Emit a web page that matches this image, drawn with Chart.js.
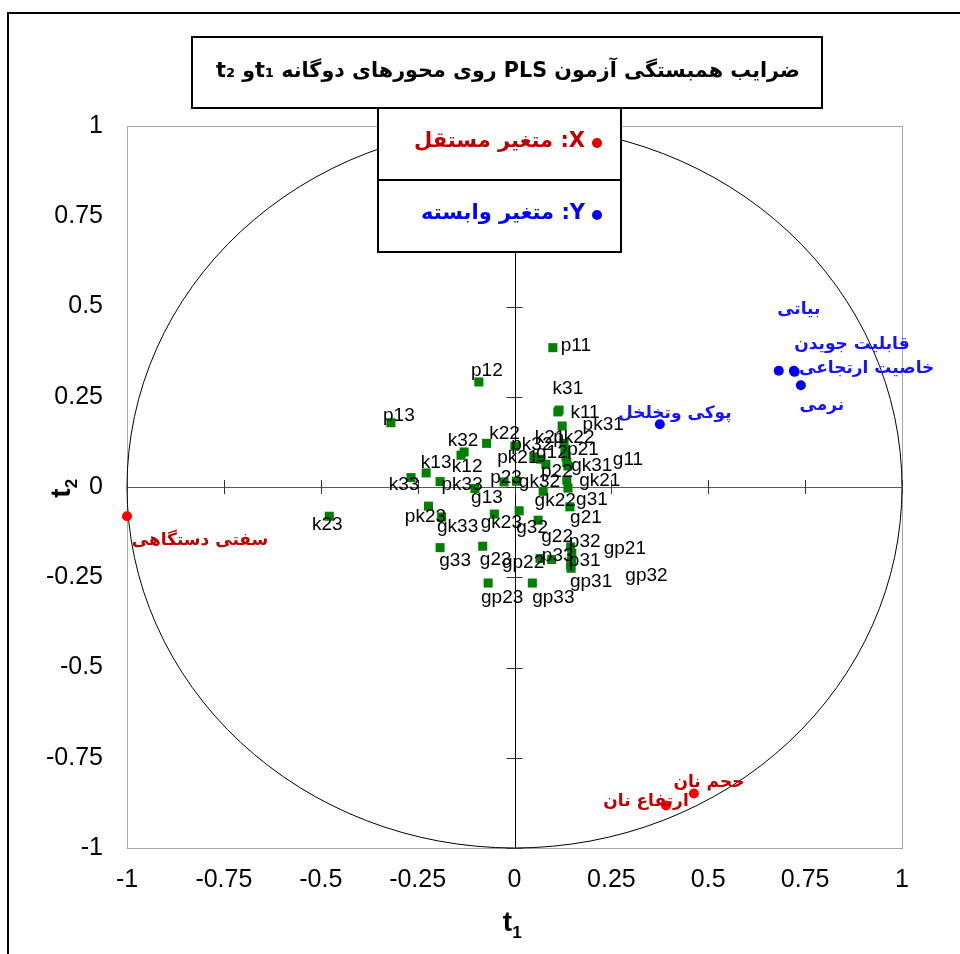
<!DOCTYPE html>
<html>
<head>
<meta charset="utf-8">
<script src="https://cdn.jsdelivr.net/npm/chart.js@4"></script>
<style>
  html, body { margin: 0; padding: 0; background: #fff; }
  canvas { display: block; }
</style>
</head>
<body>
<canvas id="c" width="960" height="954" style="width:960px;height:954px"></canvas>
<script>
// Axis ticks shared by t1 and t2
const tickValues = [-1, -0.75, -0.5, -0.25, 0, 0.25, 0.5, 0.75, 1];
const tickLabels = ['-1', '-0.75', '-0.5', '-0.25', '0', '0.25', '0.5', '0.75', '1'];

// Observations (green squares): loadings on t1 and t2
const sampleNames = ['p11','p12','p13','k11','k31','pk31','k32','k12','k22','pk32','k21','pk22','p21','pk21','g12','p22','gk31','g11','k13','k33','pk33','g13','p23','gk32','gk21','g31','gk22','k23','pk23','gk33','gk23','g32','g22','g21','g33','g23','p32','gp21','p33','gp22','p31','gp31','gp32','gp23','gp33'];
const sampleT1 = [0.099,-0.092,-0.319,0.115,0.112,0.123,-0.138,-0.130,-0.072,0.001,0.128,0.130,0.133,0.050,0.068,0.081,0.135,0.138,-0.228,-0.267,-0.192,-0.102,-0.027,0.005,0.135,0.138,0.074,-0.478,-0.222,-0.188,-0.052,0.012,0.061,0.143,-0.192,-0.082,0.145,0.148,0.096,0.066,0.145,0.146,0.147,-0.068,0.046];
const sampleT2 = [0.386,0.291,0.178,0.213,0.208,0.169,0.088,0.097,0.121,0.113,0.121,0.099,0.083,0.083,0.077,0.063,0.068,0.058,0.039,0.026,0.015,-0.004,0.014,0.016,0.019,-0.003,-0.012,-0.081,-0.053,-0.083,-0.075,-0.066,-0.092,-0.055,-0.168,-0.164,-0.166,-0.184,-0.201,-0.198,-0.217,-0.225,-0.206,-0.266,-0.266];

// Independent variables (X)
const xVarNames = ['سفتی دستگاهی', 'حجم نان', 'ارتفاع نان'];
const xVarT1 = [-1.0, 0.463, 0.391];
const xVarT2 = [-0.081, -0.849, -0.882];

// Dependent variables (Y)
const yVarNames = ['پوکی وتخلخل', 'بیاتی', 'قابلیت جویدن', 'خاصیت ارتجاعی', 'نرمی'];
const yVarT1 = [0.375, 0.682, 0.721, 0.723, 0.739];
const yVarT2 = [0.174, 0.322, 0.322, 0.319, 0.282];

// Label placement (pixel shift of each label centre from its marker)
const sampleLabelShift = [[23,-2],[8,-11],[8,-7],[26,3],[10,-23],[41,-1],[2,-14],[3,15],[18,-10],[17,-1],[-14,-6],[9,-13],[17,-7],[-16,1],[11,-6],[11,8],[25,3],[60,-6],[10,-10],[-7,7],[22,3],[12,9],[2,-4],[23,1],[33,1],[24,12],[12,9],[-2,9],[-3,11],[16,10],[7,9],[13,17],[19,17],[16,11],[15,13],[13,14],[14,-5],[53,-5],[6,-4],[-17,4],[14,-5],[20,14],[75,14],[14,15],[21,15]];
const xVarLabelShift = [[73,24],[15,-11],[-20,-4]];
const yVarLabelShift = [[15,-11],[20,-61],[58,-26],[72,-3],[21,20]];

const LATIN = '"Liberation Sans", Arial, sans-serif';
const PERSIAN = '"DejaVu Sans", sans-serif';
const RED_TEXT = '#C00000';
const BLUE_TEXT = '#1414FF';

const toPoints = (xs, ys) => xs.map((v, i) => ({ x: v, y: ys[i] }));

// Unit circle, axes through the origin with cross ticks, and the plot frame
const backdropPlugin = {
  id: 'backdrop',
  beforeDatasetsDraw(chart) {
    const { ctx, chartArea: a, scales: { x, y } } = chart;
    const x0 = x.getPixelForValue(0), y0 = y.getPixelForValue(0);
    ctx.save();
    ctx.lineWidth = 1;
    ctx.strokeStyle = '#a6a6a6';
    ctx.strokeRect(Math.round(a.left) + 0.5, Math.round(a.top) + 0.5,
      Math.round(a.right - a.left), Math.round(a.bottom - a.top));

    ctx.beginPath();
    ctx.ellipse(x0, y0, x.getPixelForValue(1) - x0, y0 - y.getPixelForValue(1), 0, 0, Math.PI * 2);
    ctx.strokeStyle = '#000';
    ctx.stroke();

    ctx.beginPath();
    ctx.strokeStyle = '#595959';
    ctx.moveTo(a.left, Math.round(y0) + 0.5);
    ctx.lineTo(a.right, Math.round(y0) + 0.5);
    ctx.stroke();
    ctx.beginPath();
    ctx.strokeStyle = '#000';
    ctx.moveTo(Math.round(x0) + 0.5, a.top);
    ctx.lineTo(Math.round(x0) + 0.5, a.bottom);
    ctx.stroke();

    ctx.beginPath();
    ctx.strokeStyle = '#333';
    tickValues.forEach(v => {
      const px = Math.round(x.getPixelForValue(v)) + 0.5;
      ctx.moveTo(px, y0 - 7); ctx.lineTo(px, y0 + 7);
      const py = Math.round(y.getPixelForValue(v)) + 0.5;
      ctx.moveTo(x0 - 8, py); ctx.lineTo(x0 + 8, py);
    });
    ctx.stroke();
    ctx.restore();
  },
  afterDatasetsDraw(chart) {
    const { ctx } = chart;
    ctx.save();
    ctx.textBaseline = 'middle';
    ctx.textAlign = 'center';

    // sample codes
    ctx.font = '19px ' + LATIN;
    ctx.fillStyle = '#000';
    ctx.direction = 'ltr';
    chart.getDatasetMeta(2).data.forEach((pt, i) => {
      const s = sampleLabelShift[i];
      ctx.fillText(sampleNames[i], pt.x + s[0], pt.y + s[1]);
    });

    // variable names
    ctx.direction = 'rtl';
    ctx.font = 'bold 17px ' + PERSIAN;
    ctx.fillStyle = RED_TEXT;
    chart.getDatasetMeta(1).data.forEach((pt, i) => {
      const s = xVarLabelShift[i];
      ctx.fillText(xVarNames[i], pt.x + s[0], pt.y + s[1]);
    });
    ctx.fillStyle = BLUE_TEXT;
    chart.getDatasetMeta(0).data.forEach((pt, i) => {
      const s = yVarLabelShift[i];
      ctx.fillText(yVarNames[i], pt.x + s[0], pt.y + s[1]);
    });
    ctx.restore();
  },
  afterDraw(chart) {
    const { ctx, scales: { x, y } } = chart;
    ctx.save();

    // outer frame
    ctx.lineWidth = 2;
    ctx.strokeStyle = '#000';
    ctx.strokeRect(8, 13, 1000, 1000);

    // title box
    ctx.fillStyle = '#fff';
    ctx.fillRect(192, 37, 630, 71);
    ctx.strokeRect(192, 37, 630, 71);
    const title = 'ضرایب همبستگی آزمون PLS روی محورهای دوگانه t\u2081و t\u2082';
    ctx.direction = 'rtl';
    ctx.textAlign = 'center';
    ctx.textBaseline = 'middle';
    let size = 22;
    ctx.font = 'bold ' + size + 'px ' + PERSIAN;
    size = size * 583 / ctx.measureText(title).width;
    ctx.font = 'bold ' + size.toFixed(1) + 'px ' + PERSIAN;
    ctx.fillStyle = '#000';
    ctx.fillText(title, 508, 72);

    // legend boxes
    const legendRows = [
      { text: 'X: متغیر مستقل', color: RED_TEXT, dot: '#E00000', top: 108 },
      { text: 'Y: متغیر وابسته', color: '#0000FF', dot: '#0000FF', top: 180 }
    ];
    legendRows.forEach(r => {
      ctx.fillStyle = '#fff';
      ctx.fillRect(378, r.top, 243, 72);
      ctx.strokeStyle = '#000';
      ctx.strokeRect(378, r.top, 243, 72);
      ctx.beginPath();
      ctx.arc(597, r.top + 35, 5, 0, Math.PI * 2);
      ctx.fillStyle = r.dot;
      ctx.fill();
      ctx.font = 'bold 21px ' + PERSIAN;
      ctx.fillStyle = r.color;
      ctx.textAlign = 'right';
      ctx.fillText(r.text, 585, r.top + 34);
    });

    // axis titles t1 / t2
    ctx.direction = 'ltr';
    ctx.fillStyle = '#000';
    ctx.textAlign = 'left';
    ctx.textBaseline = 'alphabetic';
    const drawSub = (base, sub) => {
      ctx.font = 'bold 28px ' + LATIN;
      const w = ctx.measureText(base).width;
      ctx.fillText(base, -(w + 8) / 2, 0);
      ctx.font = 'bold 17px ' + LATIN;
      ctx.fillText(sub, -(w + 8) / 2 + w, 7);
    };
    ctx.save();
    ctx.translate(x.getPixelForValue(0) - 3, 931);
    drawSub('t', '1');
    ctx.restore();
    ctx.save();
    ctx.translate(70, y.getPixelForValue(0) + 2);
    ctx.rotate(-Math.PI / 2);
    drawSub('t', '2');
    ctx.restore();

    ctx.restore();
  }
};

const tickFont = { family: LATIN, size: 25 };
const tickText = (v, i) => tickLabels[i];

new Chart(document.getElementById('c'), {
  type: 'scatter',
  data: {
    datasets: [
      { label: 'Y', data: toPoints(yVarT1, yVarT2), pointStyle: 'circle', pointRadius: 5,
        backgroundColor: '#0000FF', borderWidth: 0, clip: false },
      { label: 'X', data: toPoints(xVarT1, xVarT2), pointStyle: 'circle', pointRadius: 5,
        backgroundColor: '#FF0000', borderWidth: 0, clip: false },
      { label: 'samples', data: toPoints(sampleT1, sampleT2), pointStyle: 'rect', pointRadius: 6.4,
        backgroundColor: '#008000', borderWidth: 0, clip: false }
    ]
  },
  options: {
    responsive: false,
    animation: false,
    events: [],
    layout: { padding: { left: 8, right: 58, top: 126, bottom: 0 } },
    plugins: { legend: { display: false }, tooltip: { enabled: false } },
    scales: {
      x: {
        type: 'linear', min: -1, max: 1,
        afterBuildTicks: s => { s.ticks = tickValues.map(v => ({ value: v })); },
        afterFit: s => { s.height = 106; },
        grid: { display: false, drawTicks: false },
        border: { display: false },
        ticks: { font: tickFont, color: '#000', padding: 17, maxRotation: 0, autoSkip: false, callback: tickText }
      },
      y: {
        type: 'linear', min: -1, max: 1,
        afterBuildTicks: s => { s.ticks = tickValues.map(v => ({ value: v })); },
        afterFit: s => { s.width = 119; },
        grid: { display: false, drawTicks: false },
        border: { display: false },
        ticks: { font: tickFont, color: '#000', padding: 24, autoSkip: false, callback: tickText }
      }
    }
  },
  plugins: [backdropPlugin]
});
</script>
</body>
</html>
